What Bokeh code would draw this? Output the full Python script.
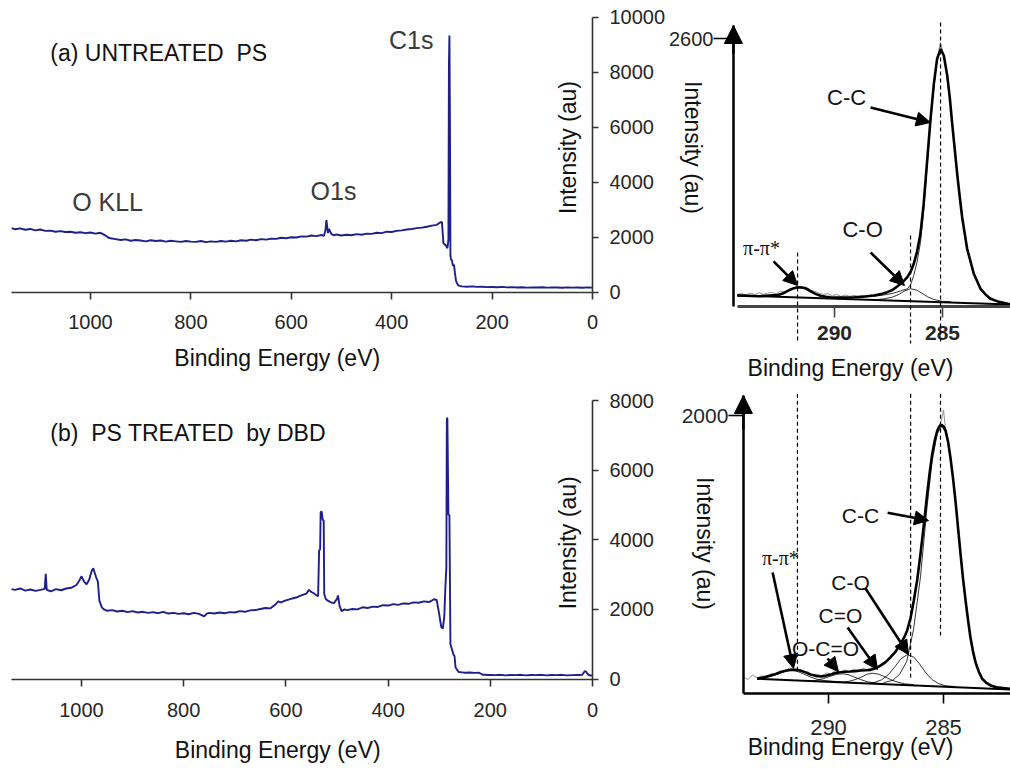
import math
from bokeh.plotting import figure
from bokeh.models import Range1d, FixedTicker, Label, Arrow, NormalHead, LinearAxis
from bokeh.embed import file_html
from bokeh.resources import INLINE

SANS = "Liberation Sans"
SERIF = "Liberation Serif"
NAVY = "#1e1e8e"

# ---------------- survey spectrum (a) untreated PS ----------------
SURVEY_A_EV = [
    1157, 1150, 1140, 1130, 1120, 1110, 1100, 1090, 1080, 1070,
    1060, 1050, 1040, 1030, 1020, 1010, 1000, 990, 980, 975,
    970, 965, 960, 950, 940, 930, 920, 910, 900, 890,
    880, 870, 860, 850, 840, 830, 820, 810, 800, 790,
    780, 770, 760, 750, 740, 730, 720, 710, 700, 690,
    680, 670, 660, 650, 640, 630, 620, 610, 600, 590,
    580, 570, 560, 550, 540, 535, 532, 530, 527, 525,
    520, 515, 510, 500, 490, 480, 470, 460, 450, 440,
    430, 420, 410, 400, 390, 380, 370, 360, 350, 340,
    330, 320, 310, 305, 300, 297, 292, 289, 287, 286,
    285, 284, 283, 282, 280, 278, 276, 274, 272, 270,
    268, 265, 260, 250, 240, 230, 220, 210, 200, 190,
    180, 170, 160, 150, 140, 130, 120, 110, 100, 90,
    80, 70, 60, 50, 40, 30, 20, 10, 0]
SURVEY_A_CT = [
    2330, 2290, 2320, 2270, 2300, 2250, 2280, 2230, 2240, 2200,
    2220, 2190, 2200, 2160, 2180, 2150, 2170, 2130, 2160, 2110,
    2060, 1990, 1960, 1930, 1900, 1920, 1870, 1900, 1880, 1850,
    1890, 1860, 1880, 1840, 1870, 1850, 1830, 1860, 1840, 1830,
    1860, 1820, 1850, 1830, 1860, 1840, 1870, 1850, 1890, 1870,
    1910, 1890, 1930, 1910, 1950, 1940, 1980, 1960, 2000, 1990,
    2030, 2020, 2060, 2040, 2080, 2050, 2250, 2620, 2150, 2300,
    2110, 2070, 2100, 2060, 2090, 2070, 2110, 2090, 2130, 2120,
    2160, 2150, 2200, 2190, 2230, 2250, 2280, 2300, 2330, 2350,
    2380, 2420, 2450, 2520, 2560, 1780, 1700, 1600, 1900, 8300,
    9330, 6200, 1350, 1200, 1150, 960, 1000, 700, 420, 330,
    260, 230, 210, 200, 210, 195, 200, 185, 190, 180,
    195, 175, 185, 170, 180, 165, 175, 170, 180, 165,
    175, 170, 160, 175, 165, 170, 160, 175, 165]

# ---------------- survey spectrum (b) PS treated by DBD ----------------
SURVEY_B_EV = [
    1137, 1130, 1120, 1110, 1100, 1090, 1080, 1072, 1070, 1068,
    1060, 1050, 1040, 1030, 1020, 1010, 1005, 1000, 995, 990,
    985, 980, 977, 972, 968, 965, 960, 955, 950, 940,
    930, 920, 910, 900, 890, 880, 870, 860, 850, 840,
    830, 820, 810, 800, 790, 780, 770, 760, 755, 750,
    740, 730, 720, 710, 700, 690, 680, 670, 660, 650,
    640, 630, 620, 615, 610, 600, 590, 580, 570, 560,
    555, 550, 545, 540, 537, 535, 533, 532, 530, 528,
    526, 525, 522, 518, 512, 506, 500, 498, 495, 491,
    485, 480, 470, 460, 450, 440, 430, 420, 410, 400,
    390, 380, 370, 360, 350, 340, 330, 320, 310, 305,
    301, 296, 293, 290, 288, 286, 285, 284, 282, 280,
    278, 276, 272, 270, 268, 266, 262, 255, 250, 240,
    230, 222, 214, 200, 190, 180, 170, 160, 150, 140,
    130, 120, 110, 100, 90, 80, 70, 60, 50, 40,
    30, 20, 15, 12, 8, 4, 0]
SURVEY_B_CT = [
    2580, 2560, 2600, 2540, 2570, 2530, 2560, 2590, 3020, 2560,
    2520, 2580, 2550, 2600, 2620, 2700, 2810, 2950, 2800, 2720,
    2850, 3100, 3180, 2950, 2800, 2250, 2050, 1990, 1960, 1980,
    1940, 1960, 1920, 1950, 1910, 1930, 1900, 1920, 1890, 1930,
    1880, 1900, 1870, 1890, 1860, 1900, 1870, 1800, 1880, 1900,
    1880, 1910, 1890, 1920, 1910, 1950, 1930, 1970, 1980, 2010,
    2040, 2030, 2150, 2230, 2200, 2260, 2300, 2340, 2400, 2450,
    2560, 2500, 2460, 2400, 2380, 3700, 3720, 4800, 4810, 4580,
    4550, 2450, 2300, 2250, 2200, 2180, 2300, 2400, 2100, 1950,
    2000, 1980, 2010, 2000, 2060, 2040, 2080, 2070, 2120, 2110,
    2150, 2130, 2170, 2160, 2200, 2190, 2230, 2210, 2290, 2270,
    1950, 1500, 1450, 1800, 2600, 3200, 7500, 7480, 4730, 4700,
    1000, 900, 700, 660, 330, 290, 200, 190, 180, 185,
    175, 180, 120, 115, 110, 120, 105, 115, 110, 120,
    105, 115, 110, 120, 105, 115, 110, 120, 105, 110,
    115, 120, 230, 200, 120, 100, 100]

SURVEY_X_TICKS = [0, 200, 400, 600, 800, 1000]
SURVEY_A_Y_TICKS = [0, 2000, 4000, 6000, 8000, 10000]
SURVEY_B_Y_TICKS = [0, 2000, 4000, 6000, 8000]

# ---------------- C1s high resolution, untreated (top right) ----------------
TR_ENV_EV = [294.5, 293.5, 292.65, 292.4, 292.19, 292.0, 291.88, 291.75, 291.65, 291.5,
             291.34, 291.2, 291.03, 290.85, 290.65, 290.4, 290.19, 289.6, 289.1, 288.6,
             288.18, 287.85, 287.56, 287.3, 287.1, 286.85, 286.63, 286.48, 286.33, 286.18,
             286.02, 285.87, 285.71, 285.56, 285.40, 285.25, 285.09, 284.94, 284.78, 284.66,
             284.55, 284.43, 284.32, 284.2, 284.09, 283.86, 283.55, 283.24, 283.0, 282.78,
             282.4, 281.85]
TR_ENV = [107, 100, 110, 125, 149, 168, 178, 185, 187, 184,
          176, 160, 139, 120, 105, 95, 90, 88, 90, 97,
          107, 120, 139, 162, 194, 235, 284, 335, 414, 530,
          705, 1000, 1416, 1804, 2160, 2403, 2500, 2435, 2240, 2020,
          1772, 1520, 1287, 1060, 866, 560, 317, 172, 115, 75,
          45, 19]
TR_BG_EV = [294.5, 281.85]
TR_BG = [107, 19]
TR_CO_EV = [288.2, 287.7, 287.3, 287.0, 286.75, 286.48, 286.2, 285.95, 285.7, 285.4, 285.0, 284.6]
TR_CO = [64, 74, 92, 120, 152, 172, 160, 128, 95, 68, 50, 46]
TR_CC_EV = [288.2, 287.7, 287.3, 287.1, 286.85, 286.63, 286.48, 286.33, 286.18, 286.02,
            285.87, 285.71, 285.56, 285.40, 285.25, 285.09, 284.94, 284.78]
TR_CC = [98, 112, 128, 140, 158, 170, 210, 300, 430, 620,
         930, 1366, 1769, 2135, 2390, 2495, 2433, 2240]
TR_PI_EV = [293.1, 292.65, 292.19, 291.88, 291.65, 291.34, 291.03, 290.65, 290.2, 289.7]
TR_PI = [97, 106, 145, 175, 184, 174, 134, 100, 80, 75]
TR_RAW_EV = [294.5, 294.3, 294.1, 293.9, 293.7, 293.5, 293.3, 293.1, 292.9, 292.7,
             292.5, 292.3, 292.1, 291.9, 291.7, 291.5, 291.3, 291.1, 290.9, 290.7,
             290.5, 290.3, 290.1, 289.9, 289.7, 289.5, 289.3, 289.1, 288.9, 288.7,
             288.5, 288.3, 288.1, 287.9, 287.7, 287.5, 287.3, 287.1, 286.9, 286.7,
             286.5, 286.3, 286.1, 285.9, 285.7, 285.5, 285.3, 285.1, 284.9, 284.7,
             284.5, 284.3, 284.1, 283.9, 283.7, 283.5, 283.3, 283.1, 282.9, 282.7,
             282.5, 282.3, 282.1, 281.9]
TR_RAW = [118, 126, 112, 130, 115, 134, 120, 128, 138, 122,
          150, 138, 168, 176, 196, 182, 186, 158, 146, 126,
          118, 124, 104, 117, 97, 112, 99, 108, 95, 106,
          100, 112, 108, 120, 128, 140, 160, 200, 232, 268,
          335, 440, 620, 950, 1430, 1960, 2330, 2560, 2400, 2090,
          1660, 1250, 880, 600, 430, 290, 205, 140, 100, 78,
          60, 48, 40, 30]
TR_X_TICKS = [290, 285]
TR_Y_TICKS = [2600]

# ---------------- C1s high resolution, DBD treated (bottom right) ----------------
BR_ENV_EV = [293.1, 292.8, 292.52, 292.3, 292.09, 291.87, 291.65, 291.44, 291.22, 291.0,
             290.78, 290.56, 290.35, 290.13, 289.91, 289.7, 289.48, 289.26, 289.04, 288.82,
             288.61, 288.39, 288.17, 287.95, 287.74, 287.52, 287.30, 287.08, 286.87, 286.72,
             286.58, 286.43, 286.29, 286.14, 286.0, 285.85, 285.71, 285.6, 285.49, 285.38,
             285.27, 285.18, 285.09, 285.0, 284.91, 284.8, 284.70, 284.59, 284.48, 284.37,
             284.26, 284.15, 284.04, 283.93, 283.83, 283.72, 283.61, 283.46, 283.32, 283.14,
             282.96, 282.7, 282.09]
BR_ENV = [106, 116, 129, 140, 153, 163, 170, 170, 165, 152,
          137, 127, 122, 127, 137, 147, 153, 156, 158, 161,
          165, 167, 170, 182, 201, 226, 261, 302, 357, 400,
          453, 545, 669, 820, 1004, 1220, 1436, 1590, 1723, 1820,
          1891, 1922, 1932, 1922, 1891, 1810, 1699, 1555, 1388, 1195,
          1004, 825, 669, 525, 405, 305, 225, 155, 106, 76,
          58, 45, 34]
BR_BG_EV = [293.1, 282.09]
BR_BG = [106, 29]
BR_PI_EV = [293.1, 292.8, 292.5, 292.2, 291.9, 291.65, 291.4, 291.1, 290.8, 290.5, 290.2, 289.8, 289.4]
BR_PI = [108, 114, 124, 140, 160, 168, 162, 142, 120, 102, 93, 88, 84]
BR_OCO_EV = [290.8, 290.5, 290.2, 289.9, 289.65, 289.4, 289.15, 288.9, 288.6, 288.3, 288.0, 287.6]
BR_OCO = [88, 95, 108, 125, 138, 142, 136, 120, 100, 84, 76, 70]
BR_CEO_EV = [289.4, 289.1, 288.8, 288.5, 288.3, 288.1, 287.85, 287.6, 287.3, 287.0, 286.7, 286.3]
BR_CEO = [82, 88, 102, 124, 140, 146, 140, 124, 100, 82, 70, 64]
BR_CO_EV = [288.3, 288.0, 287.7, 287.4, 287.1, 286.85, 286.57, 286.3, 286.05, 285.8, 285.5, 285.2, 284.9, 284.5]
BR_CO = [72, 80, 98, 135, 195, 250, 280, 262, 215, 155, 100, 70, 55, 50]
BR_CC_EV = [287.6, 287.2, 286.9, 286.6, 286.3, 286.0, 285.71, 285.49, 285.27, 285.09, 284.91, 284.8]
BR_CC = [78, 95, 140, 230, 463, 840, 1350, 1678, 1870, 1920, 1886, 1810]
BR_RAW_EV = [293.7, 293.5, 293.3, 293.1, 292.9, 292.7, 292.5, 292.3, 292.1, 291.9,
             291.7, 291.5, 291.3, 291.1, 290.9, 290.7, 290.5, 290.3, 290.1, 289.9,
             289.7, 289.5, 289.3, 289.1, 288.9, 288.7, 288.5, 288.3, 288.1, 287.9,
             287.7, 287.5, 287.3, 287.1, 286.9, 286.7, 286.5, 286.3, 286.1, 285.9,
             285.7, 285.5, 285.3, 285.1, 285.0, 284.9, 284.7, 284.5, 284.3, 284.1,
             283.9, 283.7, 283.5, 283.3, 283.1, 282.9, 282.7, 282.5, 282.3, 282.1]
BR_RAW = [120, 100, 135, 112, 128, 118, 142, 135, 165, 158,
          185, 168, 176, 150, 158, 130, 140, 125, 148, 140,
          165, 152, 170, 158, 176, 162, 182, 170, 188, 185,
          215, 228, 270, 300, 350, 410, 510, 665, 890, 1150,
          1445, 1715, 1880, 1960, 2040, 1880, 1710, 1410, 1060, 750,
          480, 300, 175, 112, 80, 62, 48, 42, 38, 36]
BR_X_TICKS = [290, 285]
BR_Y_TICKS = [2000]

# ---------------- page layout (pixel anchors of each panel's scales) ----------------
W, H = 1010, 769


def x_span(v1, p1, v2, p2):
    s = (p2 - p1) / (v2 - v1)
    return Range1d(v1 + (0 - p1) / s, v1 + (W - p1) / s)


def y_span(v1, p1, v2, p2):
    s = (p2 - p1) / (v2 - v1)
    return Range1d(v1 + (H - p1) / s, v1 + (0 - p1) / s)


p = figure(width=W, height=H, x_range=Range1d(0, 1), y_range=Range1d(0, 1),
           x_axis_type=None, y_axis_type=None, output_backend="svg",
           toolbar_location=None, min_border=0)
p.grid.visible = False
p.outline_line_color = None
p.background_fill_color = "white"
p.border_fill_color = "white"

p.extra_x_ranges = {
    "a": x_span(0, 592, 1000, 90),
    "b": x_span(0, 592, 1000, 81),
    "c": x_span(290, 834, 285, 942),
    "d": x_span(290, 828, 285, 943),
}
p.extra_y_ranges = {
    "a": y_span(0, 291.7, 10000, 16.7),
    "b": y_span(0, 678.5, 8000, 400),
    "c": y_span(0, 306, 2600, 38),
    "d": y_span(0, 693, 2000, 415),
}


def axis(panel, side, loc, bounds, ticks, color, width, tick_out, standoff, size, style="normal"):
    ax = LinearAxis(x_range_name=panel, y_range_name=panel, fixed_location=loc,
                    bounds=bounds, ticker=FixedTicker(ticks=ticks))
    ax.axis_line_color = color
    ax.axis_line_width = width
    ax.major_tick_line_color = color
    ax.major_tick_line_width = min(width, 1.6)
    ax.major_tick_out = tick_out
    ax.major_tick_in = 0
    ax.minor_tick_line_color = None
    ax.major_label_text_font = SANS
    ax.major_label_text_font_size = size
    ax.major_label_text_color = "#262626"
    ax.major_label_text_font_style = style
    ax.major_label_standoff = standoff
    p.add_layout(ax, side)
    return ax


def label(panel, x, y, text, size, align="center", angle=0.0, color="#111111", font=SANS):
    p.add_layout(Label(x=x, y=y, x_range_name=panel, y_range_name=panel, text=text,
                       text_font=font, text_font_size=size, text_color=color,
                       text_align=align, text_baseline="middle", angle=angle))


def arrow(panel, x0, y0, x1, y1):
    p.add_layout(Arrow(end=NormalHead(size=14, fill_color="black", line_color="black", line_width=1),
                       x_start=x0, y_start=y0, x_end=x1, y_end=y1,
                       x_range_name=panel, y_range_name=panel,
                       line_color="black", line_width=2.6))


def dashed(panel, x, y0, y1):
    p.add_layout(Arrow(end=None, x_start=x, y_start=y0, x_end=x, y_end=y1,
                       x_range_name=panel, y_range_name=panel,
                       line_color="black", line_width=1.2, line_dash="4 3"))


def axis_arrow(panel, x, y0, y1):
    p.add_layout(Arrow(end=NormalHead(size=18, fill_color="black", line_color="black", line_width=1),
                       x_start=x, y_start=y0, x_end=x, y_end=y1,
                       x_range_name=panel, y_range_name=panel,
                       line_color="black", line_width=2.5))


def curve(panel, xs, ys, color="black", width=0.8):
    p.line(xs, ys, x_range_name=panel, y_range_name=panel, line_color=color, line_width=width)


# ======================= (a) survey, untreated =======================
axis("a", "below", 0, (0, 1157), SURVEY_X_TICKS, "#333333", 1.6, 7, 16, "20px")
axis("a", "right", 0, (0, 10000), SURVEY_A_Y_TICKS, "#333333", 1.6, 6, 11, "20px")
curve("a", SURVEY_A_EV, SURVEY_A_CT, NAVY, 1.9)
label("a", 1080, 8716, "(a) UNTREATED\u00a0\u00a0PS", "23px", align="left")
label("a", 361, 9153, "C1s", "25px", color="#3a3a3a")
label("a", 966, 3262, "O KLL", "25px", color="#3a3a3a")
label("a", 516, 3698, "O1s", "25px", color="#3a3a3a")
label("a", 48, 5262, "Intensity (au)", "23px", angle=math.pi / 2)
label("a", 628, -2375, "Binding Energy (eV)", "23px")

# ======================= (b) survey, DBD treated =======================
axis("b", "below", 0, (0, 1137), SURVEY_X_TICKS, "#333333", 1.6, 7, 17, "20px")
axis("b", "right", 0, (0, 8000), SURVEY_B_Y_TICKS, "#333333", 1.6, 6, 11, "20px")
curve("b", SURVEY_B_EV, SURVEY_B_CT, NAVY, 1.9)
label("b", 1061, 7063, "(b)\u00a0\u00a0PS TREATED\u00a0\u00a0by DBD", "23px", align="left")
label("b", 47, 3911, "Intensity (au)", "23px", angle=math.pi / 2)
label("b", 616, -2050, "Binding Energy (eV)", "23px")

# ======================= C1s, untreated =======================
axis("c", "below", 0, (281.85, 294.49), TR_X_TICKS, "#444444", 3, 11, 8, "21px", style="bold")
axis("c", "left", 294.68, (0, 2726), TR_Y_TICKS, "black", 2.5, 20, 0, "20px")
curve("c", TR_RAW_EV, TR_RAW, "#8a8a8a", 0.9)
curve("c", TR_BG_EV, TR_BG, "black", 2)
curve("c", TR_PI_EV, TR_PI)
curve("c", TR_CO_EV, TR_CO)
curve("c", TR_CC_EV, TR_CC)
curve("c", TR_ENV_EV, TR_ENV, "black", 2.6)
dashed("c", 285.09, 2755, -359)
dashed("c", 291.71, 524, -359)
dashed("c", 286.48, 689, -359)
axis_arrow("c", 294.68, 2450, 2726)
label("c", 289.44, 2027, "C-C", "22px")
arrow("c", 288.33, 1930, 285.56, 1785)
label("c", 293.38, 572, "\u03c0-\u03c0*", "20px", font=SERIF)
arrow("c", 292.82, 437, 291.71, 204)
label("c", 288.70, 747, "C-O", "22px")
arrow("c", 288.33, 524, 286.76, 204)
label("c", 296.53, 1542, "Intensity (au)", "23px", angle=-math.pi / 2)
label("c", 289.26, -592, "Binding Energy (eV)", "23px")

# ======================= C1s, DBD treated =======================
axis("d", "below", 0, (282.09, 293.70), BR_X_TICKS, "black", 2.5, 10, 16, "22px")
axis("d", "left", 293.70, (0, 2144), BR_Y_TICKS, "black", 2.5, 15, 0, "21px")
curve("d", BR_RAW_EV, BR_RAW, "#8a8a8a", 0.9)
curve("d", BR_BG_EV, BR_BG, "black", 2)
curve("d", BR_PI_EV, BR_PI)
curve("d", BR_OCO_EV, BR_OCO)
curve("d", BR_CEO_EV, BR_CEO)
curve("d", BR_CO_EV, BR_CO)
curve("d", BR_CC_EV, BR_CC)
curve("d", BR_ENV_EV, BR_ENV, "black", 2.6)
dashed("d", 291.35, 2157, 144)
dashed("d", 286.43, 2157, 115)
dashed("d", 285.13, 2157, 417)
axis_arrow("d", 293.70, 1900, 2144)
label("d", 288.61, 1280, "C-C", "21px")
arrow("d", 287.43, 1301, 285.65, 1244)
label("d", 292.09, 978, "\u03c0-\u03c0*", "20px", font=SERIF)
arrow("d", 292.43, 870, 291.52, 180)
label("d", 289.04, 798, "C-O", "21px")
arrow("d", 288.39, 755, 286.52, 280)
label("d", 289.48, 561, "C=O", "21px")
arrow("d", 289.17, 475, 287.87, 173)
label("d", 290.13, 324, "O-C=O", "21px")
arrow("d", 290.04, 252, 289.57, 158)
label("d", 295.35, 1079, "Intensity (au)", "23px", angle=-math.pi / 2)
label("d", 289.04, -388, "Binding Energy (eV)", "23px")

open("out.html", "w").write(file_html(p, INLINE))
